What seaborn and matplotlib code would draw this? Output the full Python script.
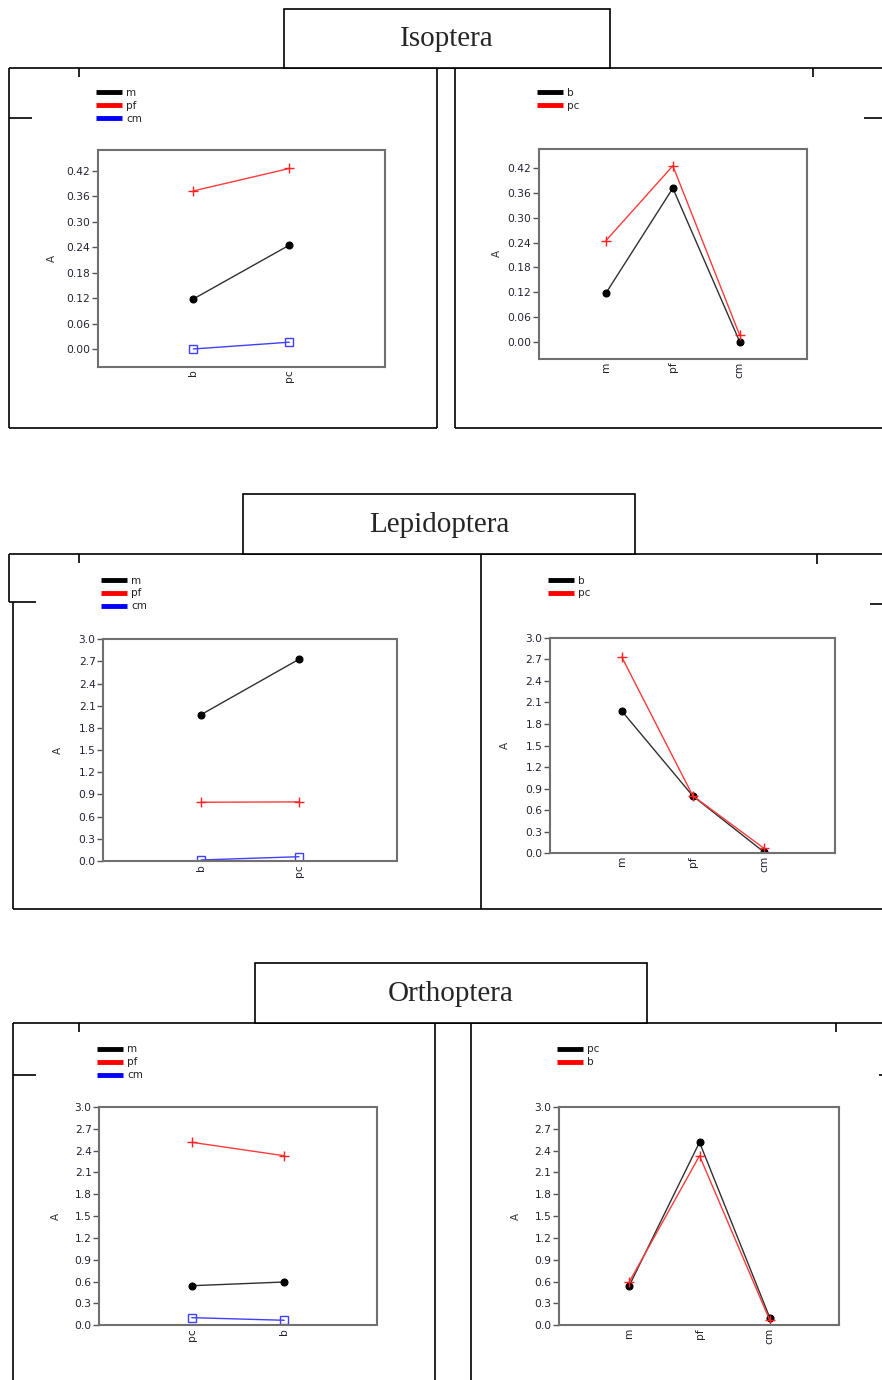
import numpy as np
import pandas as pd
import matplotlib
matplotlib.use("Agg")
import matplotlib.pyplot as plt
from matplotlib.lines import Line2D
from matplotlib.patches import Rectangle
import seaborn as sns

sns.set_style("white")
plt.rcParams["font.family"] = ["DejaVu Sans"]

W, H = 882, 1380

# ---------------- data ----------------
titles = ["Isoptera", "Lepidoptera", "Orthoptera"]

# Isoptera
iso_left_cats = ["b", "pc"]
iso_m = [0.118, 0.245]
iso_pf = [0.373, 0.426]
iso_cm = [0.000, 0.016]
iso_right_cats = ["m", "pf", "cm"]
iso_b = [0.118, 0.372, 0.000]
iso_pc = [0.245, 0.426, 0.016]

# Lepidoptera
lep_left_cats = ["b", "pc"]
lep_m = [1.98, 2.73]
lep_pf = [0.795, 0.800]
lep_cm = [0.014, 0.058]
lep_right_cats = ["m", "pf", "cm"]
lep_b = [1.98, 0.797, 0.018]
lep_pc = [2.73, 0.800, 0.070]

# Orthoptera
ort_left_cats = ["pc", "b"]
ort_m = [0.544, 0.595]
ort_pf = [2.515, 2.330]
ort_cm = [0.105, 0.069]
ort_right_cats = ["m", "pf", "cm"]
ort_pc = [0.544, 2.515, 0.105]
ort_b = [0.595, 2.330, 0.070]

yticks_small = [0.00, 0.06, 0.12, 0.18, 0.24, 0.30, 0.36, 0.42]
yticks_big = [0.0, 0.3, 0.6, 0.9, 1.2, 1.5, 1.8, 2.1, 2.4, 2.7, 3.0]

# ---------------- styles ----------------
STY = {
    "black": dict(color="#303030", marker="o", markersize=5, markerfacecolor="black",
                  markeredgecolor="black", markeredgewidth=0.8),
    "red": dict(color="#ff3a3a", marker="+", markersize=7, markeredgewidth=1.0,
                markeredgecolor="#ff2020"),
    "blue": dict(color="#4040ff", marker="s", markersize=5.5, markerfacecolor="none",
                 markeredgecolor="#4040ff", markeredgewidth=1.0),
}
LEG_COL = {"black": "#000000", "red": "#ff0000", "blue": "#0000ff"}

fig = plt.figure(figsize=(W / 100, H / 100), dpi=100)


def fx(x):
    return x / W


def fy(y):
    return 1 - y / H


def seg(x0, y0, x1, y1, lw=1.2):
    fig.add_artist(Line2D([fx(x0), fx(x1)], [fy(y0), fy(y1)], transform=fig.transFigure,
                          color="black", lw=lw, solid_capstyle="butt"))


def title_box(x0, y0, x1, y1, text):
    fig.add_artist(Rectangle((fx(x0), fy(y1)), (x1 - x0) / W, (y1 - y0) / H,
                             transform=fig.transFigure, facecolor="white",
                             edgecolor="black", lw=1.2, zorder=3))
    fig.text(fx((x0 + x1) / 2), fy((y0 + y1) / 2 + 1), text, ha="center", va="center",
             fontsize=21, family="Liberation Serif", zorder=4)


def panel(box, cats, series, xlim, ylim, yticks, fmt, label_px, legend_pos):
    x0, x1, y0, y1 = box
    ax = fig.add_axes([fx(x0), fy(y1), (x1 - x0) / W, (y1 - y0) / H])
    for name, vals, sty in series:
        sns.lineplot(x=cats, y=vals, ax=ax, linewidth=1.0, errorbar=None,
                     legend=False, sort=False, **STY[sty])
    ax.set_xlim(*xlim)
    ax.set_ylim(*ylim)
    ax.set_yticks(yticks)
    ax.set_yticklabels([fmt.format(v) for v in yticks])
    for s in ax.spines.values():
        s.set_color("#707070")
        s.set_linewidth(1.5)
        s.set_visible(True)
    ax.tick_params(axis="y", direction="out", length=4, width=1, color="#555555",
                   labelsize=7.7, labelcolor="#222233", pad=1.5, left=True)
    ax.tick_params(axis="x", length=0, labelsize=7.7, labelcolor="#222233",
                   labelrotation=90, pad=2)
    ax.set_xlabel("")
    ax.set_ylabel("A", fontsize=7.5, color="#333333")
    ax.yaxis.set_label_coords((label_px - x0) / (x1 - x0), 0.5)
    handles = [Line2D([], [], color=LEG_COL[sty], lw=3.5, solid_capstyle="butt")
               for _, _, sty in series]
    labels = [name for name, _, _ in series]
    leg = ax.legend(handles, labels, loc="upper left",
                    bbox_to_anchor=(fx(legend_pos[0]), fy(legend_pos[1])),
                    bbox_transform=fig.transFigure, frameon=False, fontsize=7.5,
                    handlelength=2.5, handletextpad=0.4, labelspacing=0.28,
                    borderpad=0, borderaxespad=0)
    for t in leg.get_texts():
        t.set_color("#222222")
    return ax


# ---------------- row 1 : Isoptera ----------------
seg(8.7, 67.5, 882, 67.5)
seg(8.7, 67.5, 8.7, 428)
seg(8.7, 428, 437.3, 428)
seg(437.3, 67.5, 437.3, 428)
seg(454.7, 67.5, 454.7, 428)
seg(454.7, 428, 882, 428)
seg(79, 67.5, 79, 77.3)
seg(8.7, 117.7, 31.7, 117.7)
seg(813, 67.5, 813, 77.3)
seg(864, 117.7, 882, 117.7)
title_box(284, 9, 610, 68, titles[0])

panel((97.7, 385, 150, 366.7), iso_left_cats,
      [("m", iso_m, "black"), ("pf", iso_pf, "red"), ("cm", iso_cm, "blue")],
      (-0.996, 1.997), (-0.0418, 0.4696), yticks_small, "{:.2f}", 57, (96, 88))
panel((539, 806.7, 148.7, 359), iso_right_cats,
      [("b", iso_b, "black"), ("pc", iso_pc, "red")],
      (-1.003, 3.003), (-0.0419, 0.4675), yticks_small, "{:.2f}", 502, (537, 88))

# ---------------- row 2 : Lepidoptera ----------------
seg(8.7, 553.7, 882, 553.7)
seg(8.7, 553.7, 8.7, 602.3)
seg(8.7, 602.3, 36, 602.3)
seg(12.7, 602.3, 12.7, 909)
seg(12.7, 909, 882, 909)
seg(481.3, 553.7, 481.3, 909)
seg(79, 553.7, 79, 563.3)
seg(817.3, 553.7, 817.3, 563.7)
seg(870, 604, 882, 604)
title_box(243, 494, 635, 553.7, titles[1])

panel((103.3, 396.7, 639.3, 861), lep_left_cats,
      [("m", lep_m, "black"), ("pf", lep_pf, "red"), ("cm", lep_cm, "blue")],
      (-0.997, 1.997), (0.0, 3.0), yticks_big, "{:.1f}", 62.7, (101, 575.5))
panel((550, 835, 637.7, 853.3), lep_right_cats,
      [("b", lep_b, "black"), ("pc", lep_pc, "red")],
      (-1.01, 3.0), (0.0, 3.0), yticks_big, "{:.1f}", 510, (548, 575.5))

# ---------------- row 3 : Orthoptera ----------------
seg(12.7, 1023, 882, 1023)
seg(12.7, 1023, 12.7, 1380)
seg(435.3, 1023, 435.3, 1380)
seg(471, 1023, 471, 1380)
seg(79, 1023, 79, 1032.3)
seg(12.7, 1075.3, 36, 1075.3)
seg(835.7, 1023, 835.7, 1032.3)
seg(879, 1075, 882, 1075)
title_box(255, 963, 647, 1023, titles[2])

panel((99.3, 376.7, 1107, 1325.3), ort_left_cats,
      [("m", ort_m, "black"), ("pf", ort_pf, "red"), ("cm", ort_cm, "blue")],
      (-1.0, 2.0), (0.0, 3.0), yticks_big, "{:.1f}", 61, (97, 1044.5))
panel((559, 839.3, 1107, 1325.3), ort_right_cats,
      [("pc", ort_pc, "black"), ("b", ort_b, "red")],
      (-1.0, 2.99), (0.0, 3.0), yticks_big, "{:.1f}", 521, (557, 1044.5))

fig.savefig("out.png", dpi=100)
